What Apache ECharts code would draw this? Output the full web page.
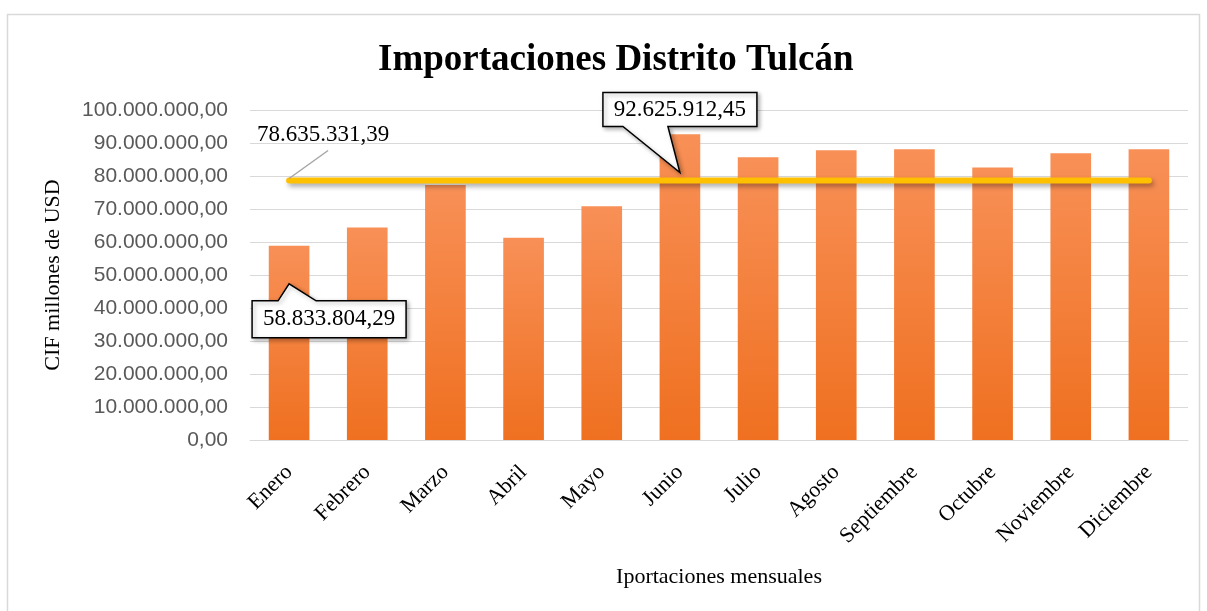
<!DOCTYPE html>
<html>
<head>
<meta charset="utf-8">
<script src="https://cdn.jsdelivr.net/npm/echarts@6/dist/echarts.min.js"></script>
<style>
    html, body { margin: 0; padding: 0; background: #fff; }
    #chart { width: 1207px; height: 611px; }
</style>
</head>
<body>
<div id="chart"></div>
<script>
'use strict';

const months = ['Enero', 'Febrero', 'Marzo', 'Abril', 'Mayo', 'Junio', 'Julio',
    'Agosto', 'Septiembre', 'Octubre', 'Noviembre', 'Diciembre'];
const imports = [58833804.29, 64400000, 77300000, 61300000, 70800000, 92625912.45,
    85700000, 87800000, 88100000, 82600000, 86900000, 88100000];
const average = 78635331.39;
const averageLine = months.map(() => average);
const yTicks = [0, 10000000, 20000000, 30000000, 40000000, 50000000,
    60000000, 70000000, 80000000, 90000000, 100000000];

const serif = '"Liberation Serif", "Times New Roman", serif';

// 100000000 -> 100.000.000,00
const fmt = (v) => {
    const parts = Number(v).toFixed(2).split('.');
    parts[0] = parts[0].replace(/\B(?=(\d{3})+(?!\d))/g, '.');
    return parts.join(',');
};

const chart = echarts.init(document.getElementById('chart'));

chart.setOption({
    animation: false,
    title: {
        text: 'Importaciones Distrito Tulcán',
        left: 373,
        top: 37,
        textStyle: { fontFamily: serif, fontSize: 37, fontWeight: 'bold', color: '#000' }
    },
    grid: { left: 250, right: 19, top: 110, bottom: 171 },
    xAxis: {
        type: 'category',
        data: months,
        name: 'Iportaciones mensuales',
        nameLocation: 'middle',
        nameGap: 126,
        nameTextStyle: { fontFamily: serif, fontSize: 22, color: '#000' },
        axisLine: { lineStyle: { color: '#d9d9d9', width: 1 } },
        axisTick: { show: false },
        axisLabel: { rotate: 45, margin: 29, fontFamily: serif, fontSize: 22, color: '#000' }
    },
    yAxis: {
        type: 'value',
        min: yTicks[0],
        max: yTicks[yTicks.length - 1],
        interval: yTicks[1] - yTicks[0],
        name: 'CIF millones de USD',
        nameLocation: 'middle',
        nameGap: 186,
        nameTextStyle: { fontFamily: serif, fontSize: 22, color: '#000' },
        axisLabel: {
            formatter: fmt,
            margin: 22,
            fontFamily: '"Liberation Sans", Arial, sans-serif',
            fontSize: 21,
            color: '#595959'
        },
        splitLine: { lineStyle: { color: '#d9d9d9', width: 1 } }
    },
    series: [
        {
            name: 'Importaciones',
            type: 'bar',
            data: imports,
            barWidth: '52%',
            itemStyle: {
                color: new echarts.graphic.LinearGradient(0, 0, 0, 1, [
                    { offset: 0, color: '#F89057' },
                    { offset: 1, color: '#EF7020' }
                ]),
                shadowColor: 'rgba(0,0,0,0.35)',
                shadowBlur: 6,
                shadowOffsetX: 2,
                shadowOffsetY: 2
            }
        },
        {
            name: 'Promedio',
            type: 'line',
            data: averageLine,
            showSymbol: false,
            z: 5,
            lineStyle: {
                color: '#FFC000',
                width: 6,
                cap: 'round',
                shadowColor: 'rgba(0,0,0,0.35)',
                shadowBlur: 5,
                shadowOffsetX: 2,
                shadowOffsetY: 3
            }
        }
    ]
});

// Callouts drawn from the data positions
const px = (i, v) => chart.convertToPixel({ xAxisIndex: 0, yAxisIndex: 0 }, [i, v]);

const callout = (box, wedge, tip, text) => {
    const [x, y, w, h] = box;
    let points;
    if (wedge.side === 'bottom') {
        points = [[x, y], [x + w, y], [x + w, y + h], [wedge.b, y + h], tip,
            [wedge.a, y + h], [x, y + h]];
    } else {
        points = [[x, y], [wedge.a, y], tip, [wedge.b, y], [x + w, y],
            [x + w, y + h], [x, y + h]];
    }
    return [
        {
            type: 'polygon',
            z: 100,
            shape: { points: points },
            style: {
                fill: '#fff', stroke: '#000', lineWidth: 1.5,
                shadowColor: 'rgba(0,0,0,0.3)', shadowBlur: 4, shadowOffsetX: 2, shadowOffsetY: 2
            }
        },
        {
            type: 'text',
            z: 101,
            x: x + w / 2,
            y: y + h / 2,
            style: {
                text: text, fontFamily: serif, fontSize: 23, fill: '#000',
                align: 'center', verticalAlign: 'middle'
            }
        }
    ];
};

const junio = px(5, average);
const junioTip = [junio[0], junio[1] - 8];
const enero = px(0, imports[0]);
const eneroTip = [enero[0], enero[1] + 38];
const avgStart = px(0, average);

chart.setOption({
    graphic: [
        {
            type: 'rect',
            shape: { x: 7.5, y: 14.5, width: 1192, height: 610 },
            style: { fill: 'none', stroke: '#d9d9d9', lineWidth: 1.5 },
            silent: true
        },
        {
            type: 'line',
            z: 100,
            shape: { x1: avgStart[0], y1: avgStart[1] - 2, x2: avgStart[0] + 39, y2: avgStart[1] - 30 },
            style: { stroke: '#a6a6a6', lineWidth: 1.5 }
        },
        {
            type: 'text',
            z: 100,
            x: avgStart[0] - 32,
            y: avgStart[1] - 46,
            style: {
                text: fmt(average), fontFamily: serif, fontSize: 23, fill: '#000',
                align: 'left', verticalAlign: 'middle'
            }
        },
        ...callout([junioTip[0] - 77, junioTip[1] - 80, 154, 34],
            { side: 'bottom', a: junioTip[0] - 57, b: junioTip[0] - 12 }, junioTip, fmt(imports[5])),
        ...callout([eneroTip[0] - 37, eneroTip[1] + 17, 154, 37],
            { side: 'top', a: eneroTip[0] - 11, b: eneroTip[0] + 27 }, eneroTip, fmt(imports[0]))
    ]
});
</script>
</body>
</html>
